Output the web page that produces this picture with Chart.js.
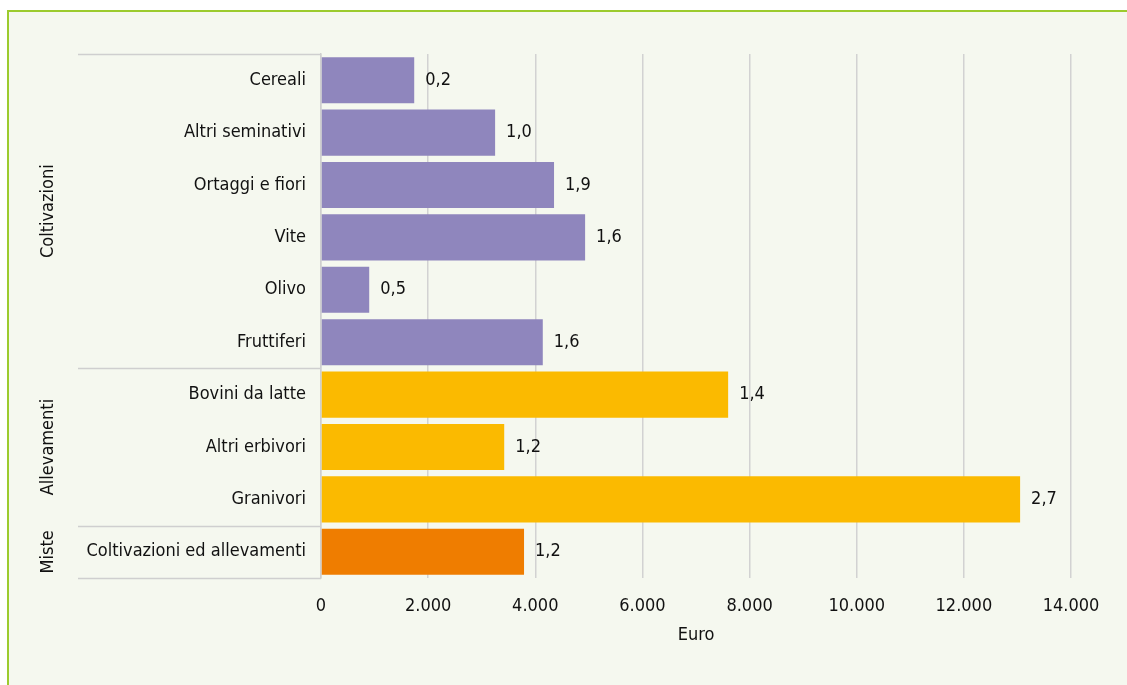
<!DOCTYPE html>
<html>
<head>
<meta charset="utf-8">
<script src="https://cdn.jsdelivr.net/npm/chart.js@4.4.1/dist/chart.umd.min.js"></script>
<style>
  html, body { margin: 0; padding: 0; background: #ffffff; }
  #frame {
    position: absolute; left: 7px; top: 10px; right: 0; bottom: 0;
    background: #f5f8ef;
    border-top: 2px solid #9ccb2e;
    border-left: 2px solid #9ccb2e;
  }
  #wrap { position: absolute; left: 0; top: 0; width: 1127px; height: 685px; }
</style>
</head>
<body>
<div id="frame"></div>
<div id="wrap"><canvas id="chart"></canvas></div>
<script>
const categories = ["Cereali", "Altri seminativi", "Ortaggi e fiori", "Vite", "Olivo", "Fruttiferi",
    "Bovini da latte", "Altri erbivori", "Granivori", "Coltivazioni ed allevamenti"]
const values = [1740, 3250, 4350, 4930, 900, 4140, 7600, 3420, 13050, 3790]
const shareLabels = ["0,2", "1,0", "1,9", "1,6", "0,5", "1,6", "1,4", "1,2", "2,7", "1,2"]
const groups = ["Coltivazioni", "Allevamenti", "Miste"]
const groupSizes = [6, 3, 1]
const groupColors = ["#8f86bd", "#fbba00", "#ef7d00"]

const FONT = "'DejaVu Sans Condensed', 'Liberation Sans Narrow', sans-serif"
const SIZE = 18
const TEXT = "#111111"

// colour of each bar from the group it belongs to
const barColors = []
groupSizes.forEach((n, g) => { for (let i = 0; i < n; i++) barColors.push(groupColors[g]) })

const groupAxis = {
    id: 'groupAxis',
    afterDraw(chart) {
        const ctx = chart.ctx
        const y = chart.scales.y
        const right = y.right
        ctx.save()
        ctx.strokeStyle = "#cfcfcf"
        ctx.lineWidth = 1.5
        let start = 0
        const lines = [-0.5]
        groupSizes.forEach(n => { start += n; lines.push(start - 0.5) })
        lines.forEach(v => {
            const py = Math.round(y.getPixelForValue(v)) + 0.5
            ctx.beginPath()
            ctx.moveTo(78, py)
            ctx.lineTo(right, py)
            ctx.stroke()
        })
        ctx.fillStyle = TEXT
        ctx.font = SIZE + "px " + FONT
        ctx.textAlign = "center"
        ctx.textBaseline = "middle"
        start = 0
        groups.forEach((g, i) => {
            const top = y.getPixelForValue(start - 0.5)
            const bottom = y.getPixelForValue(start + groupSizes[i] - 0.5)
            start += groupSizes[i]
            ctx.save()
            ctx.translate(48, (top + bottom) / 2)
            ctx.rotate(-Math.PI / 2)
            ctx.fillText(g, 0, 0)
            ctx.restore()
        })
        ctx.restore()
    }
}

const barLabels = {
    id: 'barLabels',
    afterDatasetsDraw(chart) {
        const ctx = chart.ctx
        const meta = chart.getDatasetMeta(0)
        ctx.save()
        ctx.fillStyle = TEXT
        ctx.font = SIZE + "px " + FONT
        ctx.textAlign = "left"
        ctx.textBaseline = "middle"
        meta.data.forEach((bar, i) => {
            ctx.fillText(shareLabels[i], bar.x + 11, bar.y)
        })
        ctx.restore()
    }
}

new Chart(document.getElementById("chart"), {
    type: 'bar',
    data: {
        labels: categories,
        datasets: [{
            data: values,
            backgroundColor: barColors,
            barPercentage: 0.88,
            categoryPercentage: 1
        }]
    },
    options: {
        indexAxis: 'y',
        responsive: true,
        maintainAspectRatio: false,
        animation: false,
        layout: { padding: { top: 54, right: 56, left: 0, bottom: 0 } },
        plugins: { legend: { display: false }, tooltip: { enabled: false } },
        scales: {
            x: {
                min: 0,
                max: 14000,
                ticks: {
                    stepSize: 2000,
                    padding: 18,
                    color: TEXT,
                    font: { family: FONT, size: SIZE },
                    callback: v => v.toLocaleString('it-IT')
                },
                grid: { color: "#d2d2d2", lineWidth: 1.5, drawTicks: false },
                border: { display: false },
                title: {
                    display: true,
                    text: "Euro",
                    color: TEXT,
                    font: { family: FONT, size: SIZE },
                    padding: { top: 6, bottom: 39 }
                },
                afterFit: scale => { scale.height = 107 }
            },
            y: {
                ticks: {
                    padding: 15,
                    color: TEXT,
                    font: { family: FONT, size: SIZE }
                },
                grid: { display: false, drawTicks: false },
                border: { display: true, color: "#cfcfcf", width: 1.5 },
                afterFit: scale => { scale.width = 321 }
            }
        }
    },
    plugins: [groupAxis, barLabels]
})
</script>
</body>
</html>
